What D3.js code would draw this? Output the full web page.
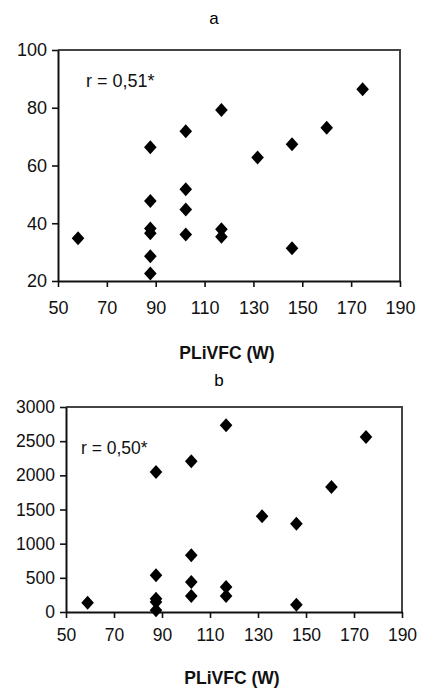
<!DOCTYPE html>
<html>
<head>
<meta charset="utf-8">
<script src="https://cdn.jsdelivr.net/npm/d3@7"></script>
<style>
  body { margin: 0; background: #fff; }
  svg { display: block; font-family: "Liberation Sans", Arial, sans-serif; }
</style>
</head>
<body>
<svg id="chart" width="423" height="689"></svg>
<script>
// panel a
var xA = [58.2, 87.8, 87.8, 87.8, 87.8, 87.8, 87.8, 102.3, 102.3, 102.3, 102.3, 116.9, 116.9, 116.9, 131.7, 145.8, 145.8, 160, 174.7];
var yA = [34.8, 66.3, 47.7, 38.2, 36.5, 28.6, 22.6, 71.9, 51.8, 44.8, 36.1, 79.2, 37.9, 35.3, 62.8, 67.4, 31.3, 73.1, 86.4];
var yTicksA = [20, 40, 60, 80, 100];

// panel b
var xB = [59, 87.5, 87.5, 87.5, 87.5, 87.5, 102.2, 102.2, 102.2, 102.2, 116.7, 116.7, 116.7, 131.7, 146, 146, 160.6, 175];
var yB = [137, 2049, 537, 195, 146, 24, 2205, 829, 439, 234, 2732, 366, 234, 1400, 1293, 107, 1829, 2561];
var yTicksB = [0, 500, 1000, 1500, 2000, 2500, 3000];

var xTicks = [50, 70, 90, 110, 130, 150, 170, 190];

var svg = d3.select("#chart");

// diamond marker
function diamond(cx, cy) {
  var w = 6.3, h = 7;
  return "M" + cx + "," + (cy - h) + "L" + (cx + w) + "," + cy + "L" + cx + "," + (cy + h) + "L" + (cx - w) + "," + cy + "Z";
}

function drawPanel(opt) {
  var g = svg.append("g");
  var x = d3.scaleLinear().domain([50, 190]).range([opt.left, opt.right]);
  var y = d3.scaleLinear().domain(opt.yDomain).range([opt.bottom, opt.top]);

  // title
  g.append("text")
    .attr("x", opt.titleX).attr("y", opt.titleY)
    .attr("text-anchor", "middle")
    .style("font-size", "17px")
    .text(opt.title);

  // frame top/right
  g.append("path")
    .attr("d", "M" + opt.left + "," + opt.top + "H" + opt.right + "V" + opt.bottom)
    .attr("fill", "none").attr("stroke", "#444").attr("stroke-width", 2);

  // x axis
  var xa = g.append("g")
    .attr("transform", "translate(0," + opt.bottom + ")")
    .call(d3.axisBottom(x).tickValues(xTicks).tickFormat(d3.format("d"))
      .tickSize(6).tickSizeOuter(0).tickPadding(opt.xPad));
  // y axis
  var ya = g.append("g")
    .attr("transform", "translate(" + opt.left + ",0)")
    .call(d3.axisLeft(y).tickValues(opt.yTicks).tickFormat(d3.format("d"))
      .tickSize(6).tickSizeOuter(0).tickPadding(5));

  [xa, ya].forEach(function(a) {
    a.select(".domain").attr("stroke", "#111").attr("stroke-width", 2);
    a.selectAll(".tick line").attr("stroke", "#111").attr("stroke-width", 1.6);
    a.selectAll("text").style("font-size", opt.font).attr("fill", "#111")
      .style("font-family", "Liberation Sans, Arial, sans-serif");
  });

  // r label
  g.append("text")
    .attr("x", opt.rX).attr("y", opt.rY)
    .style("font-size", opt.font).attr("fill", "#111")
    .text(opt.rText);

  // points
  g.append("g").selectAll("path")
    .data(opt.xs.map(function(v, i) { return [v, opt.ys[i]]; }))
    .enter().append("path")
    .attr("d", function(d) { return diamond(x(d[0]), y(d[1])); })
    .attr("fill", "#000");

  // x label
  g.append("text")
    .attr("x", opt.labelX).attr("y", opt.labelY)
    .attr("text-anchor", "middle")
    .style("font-size", "17.5px").style("font-weight", "bold").attr("fill", "#111")
    .text("PLiVFC (W)");
}

drawPanel({
  title: "a", titleX: 214, titleY: 24,
  left: 58, right: 400, top: 50, bottom: 281,
  yDomain: [20, 100], yTicks: yTicksA,
  xs: xA, ys: yA, font: "18px", xPad: 14,
  rText: "r = 0,51*", rX: 86, rY: 87,
  labelX: 227, labelY: 359
});

drawPanel({
  title: "b", titleX: 219, titleY: 386,
  left: 66, right: 402, top: 407, bottom: 612,
  yDomain: [0, 3000], yTicks: yTicksB,
  xs: xB, ys: yB, font: "17.5px", xPad: 11,
  rText: "r = 0,50*", rX: 81, rY: 454,
  labelX: 232, labelY: 684
});
</script>
</body>
</html>
